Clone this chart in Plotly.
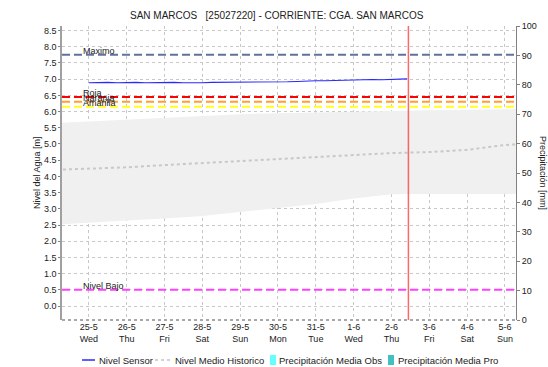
import plotly.graph_objects as go
from datetime import datetime, timedelta

# --- data -------------------------------------------------------------
day_dates = ["2024-05-24", "2024-05-25", "2024-05-26", "2024-05-27", "2024-05-28",
             "2024-05-29", "2024-05-30", "2024-05-31", "2024-06-01", "2024-06-02",
             "2024-06-03", "2024-06-04", "2024-06-05", "2024-06-06"]

# historic daily statistics (water level, m)
hist_max = [5.64, 5.70, 5.76, 5.82, 5.87, 5.92, 5.95, 5.98, 6.00, 6.02, 6.04, 6.06, 6.08, 6.09]
hist_min = [2.50, 2.58, 2.64, 2.70, 2.78, 2.90, 3.02, 3.15, 3.32, 3.45, 3.46, 3.46, 3.46, 3.46]
hist_mean = [4.20, 4.24, 4.28, 4.35, 4.41, 4.46, 4.52, 4.58, 4.66, 4.72, 4.75, 4.82, 4.97, 5.03]

# sensor readings every 6 h (m)
sensor_start = "2024-05-25 00:00"
sensor_level = [6.89, 6.90, 6.90, 6.89,
                6.90, 6.90, 6.89, 6.90,
                6.90, 6.90, 6.89, 6.88,
                6.89, 6.90, 6.90, 6.91,
                6.91, 6.91, 6.91, 6.92,
                6.92, 6.92, 6.93, 6.95,
                6.95, 6.95, 6.96, 6.98,
                6.98, 6.98, 6.99, 6.98,
                6.99, 7.00]
sensor_last_time = "2024-06-02 10:00"
sensor_last_level = 7.01

now_time = "2024-06-02 10:45"

# alert thresholds (m)
level_names = ["Maximo", "Roja", "Naranja", "Amarilla", "Nivel Bajo"]
level_values = [7.75, 6.45, 6.30, 6.15, 0.50]
level_colors = ["#6272a0", "#ff0000", "#ffa030", "#ffff20", "#ff40ff"]

tick_dates = day_dates[1:13]
tick_labels = ["25-5<br>Wed", "26-5<br>Thu", "27-5<br>Fri", "28-5<br>Sat", "29-5<br>Sun",
               "30-5<br>Mon", "31-5<br>Tue", "1-6<br>Wed", "2-6<br>Thu", "3-6<br>Fri",
               "4-6<br>Sat", "5-6<br>Sun"]

x_start = "2024-05-24 07:00"
x_end = "2024-06-05 07:00"

legend_names = ["Nivel Sensor", "Nivel Medio Historico",
                "Precipitación Media Obs", "Precipitación Media Pro"]

# --- layout geometry (pixels) ----------------------------------------
W, H = 548, 367
ML, MR, MT, MB = 62, 32, 26, 47
PW, PH = W - ML - MR, H - MT - MB


def px(x):
    return (x - ML) / PW


def py(y):
    return (H - MB - y) / PH


# --- build ------------------------------------------------------------
t0 = datetime.strptime(sensor_start, "%Y-%m-%d %H:%M")
sensor_times = [t0 + timedelta(hours=6 * i) for i in range(len(sensor_level))]
sensor_times.append(datetime.strptime(sensor_last_time, "%Y-%m-%d %H:%M"))
sensor_vals = sensor_level + [sensor_last_level]

FONT = "Liberation Sans, Arial, sans-serif"
TXT = "#222222"
fig = go.Figure()

# historic range band
fig.add_trace(go.Scatter(x=day_dates, y=hist_min, mode="lines", line=dict(width=0),
                         showlegend=False, hoverinfo="skip"))
fig.add_trace(go.Scatter(x=day_dates, y=hist_max, mode="lines", line=dict(width=0),
                         fill="tonexty", fillcolor="#f0f0f0", showlegend=False,
                         hoverinfo="skip"))

# threshold lines
for name, val, col in zip(level_names, level_values, level_colors):
    fig.add_trace(go.Scatter(x=[x_start, x_end], y=[val, val], mode="lines",
                             line=dict(color=col, width=2, dash="8px,4px"),
                             showlegend=False, hoverinfo="skip"))
    fig.add_annotation(x="2024-05-24 19:00", y=val, text=name, showarrow=False,
                       xanchor="left", yanchor="bottom", yshift=-3,
                       font=dict(family=FONT, size=9, color=TXT))

fig.add_trace(go.Scatter(x=day_dates, y=hist_mean, mode="lines",
                         line=dict(color="#c8c8c8", width=2, dash="dot"),
                         showlegend=False, hoverinfo="skip"))
fig.add_trace(go.Scatter(x=sensor_times, y=sensor_vals, mode="lines",
                         line=dict(color="#2a2aff", width=1.1),
                         showlegend=False, hoverinfo="skip"))
# empty precipitation series, kept on the right axis
fig.add_trace(go.Bar(x=[None], y=[None], yaxis="y2", showlegend=False,
                     marker_color="#66ffff"))

# current time marker
fig.add_shape(type="line", xref="x", yref="paper", x0=now_time, x1=now_time,
              y0=0, y1=1, line=dict(color="rgba(255,40,40,0.7)", width=1.5))
# dotted bottom border
fig.add_shape(type="line", xref="paper", yref="paper", x0=0, x1=1, y0=0, y1=0,
              line=dict(color="#505050", width=1, dash="dot"))

# legend row
ly = 360
fig.add_shape(type="line", xref="paper", yref="paper", x0=px(82), x1=px(95),
              y0=py(ly), y1=py(ly), line=dict(color="#2a2aff", width=1.5))
fig.add_shape(type="line", xref="paper", yref="paper", x0=px(155), x1=px(170),
              y0=py(ly), y1=py(ly), line=dict(color="#c4c4c4", width=1.5, dash="dot"))
fig.add_shape(type="rect", xref="paper", yref="paper", x0=px(270), x1=px(276),
              y0=py(ly + 5), y1=py(ly - 5), line=dict(width=0), fillcolor="#66ffff")
fig.add_shape(type="rect", xref="paper", yref="paper", x0=px(388), x1=px(394),
              y0=py(ly + 5), y1=py(ly - 5), line=dict(width=0), fillcolor="#40c0c0")
for name, lx in zip(legend_names, [97, 173, 277, 396]):
    fig.add_annotation(xref="paper", yref="paper", x=px(lx), y=py(ly), text=name,
                       showarrow=False, xanchor="left", yanchor="middle",
                       font=dict(family=FONT, size=9.5, color=TXT))

fig.update_layout(
    width=W, height=H,
    margin=dict(l=ML, r=MR, t=MT, b=MB, autoexpand=False),
    paper_bgcolor="white", plot_bgcolor="white",
    font=dict(family=FONT, size=9, color=TXT),
    showlegend=False,
    title=dict(text="SAN MARCOS   [25027220] - CORRIENTE: CGA. SAN MARCOS",
               x=0.505, xanchor="center", y=1 - 15 / H, yanchor="middle",
               font=dict(family=FONT, size=10, color=TXT)),
    xaxis=dict(range=[x_start, x_end], tickvals=tick_dates, ticktext=tick_labels,
               showgrid=True, gridcolor="#c8c8c8", griddash="dot", gridwidth=1,
               showline=False, zeroline=False, ticks="", tickfont=dict(size=9)),
    yaxis=dict(range=[-0.43, 8.64], dtick=0.5, tick0=0, tickformat=".1f",
               showgrid=True, gridcolor="#c8c8c8", griddash="dot",
               showline=True, linecolor="#a0a0a0", linewidth=1.5,
               ticks="outside", ticklen=2, tickcolor="#808080", zeroline=False),
    yaxis2=dict(range=[0, 100], dtick=10, overlaying="y", side="right",
                showgrid=False, showline=True, linecolor="#808080", linewidth=1,
                ticks="outside", ticklen=3, tickcolor="#808080", zeroline=False),
    bargap=0,
)

fig.add_annotation(xref="paper", yref="paper", x=px(37), y=0.5, text="Nivel del Agua [m]",
                   textangle=-90, showarrow=False, xanchor="center", yanchor="middle",
                   font=dict(family=FONT, size=9, color=TXT))
fig.add_annotation(xref="paper", yref="paper", x=px(543), y=0.5, text="Precipitación [mm]",
                   textangle=90, showarrow=False, xanchor="center", yanchor="middle",
                   font=dict(family=FONT, size=9, color=TXT))

fig.write_html("out.html")
